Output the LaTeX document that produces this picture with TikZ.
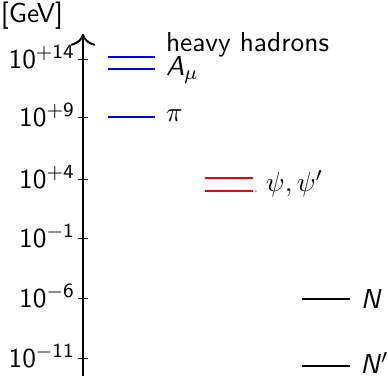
\documentclass[tikz,border=0pt,11pt]{standalone}
\usepackage{tikz}
\usetikzlibrary{arrows.meta,positioning}
\definecolor{levelblue}{RGB}{0,0,230}
\definecolor{levelred}{RGB}{240,0,0}

\tikzset{
  level/.style={thick},
  ticklabel/.style={anchor=east, inner sep=1pt, font=\sffamily},
  statelabel/.style={anchor=west, inner sep=1pt, font=\sffamily}
}

\begin{document}
\begin{tikzpicture}[x=0.4pt, y=-0.4pt]
  \useasboundingbox (0,0) rectangle (388,376);

  % energy axis
  \coordinate (axbot) at (83,376);
  \coordinate (axtop) at (83,34);
  \draw[thick, -{To[scale=1.4]}] (axbot) -- (axtop);
  \node[font=\sffamily] (unit) at (32,16) {[GeV]};

  % ticks and labels
  \foreach \y/\e/\n in {59/+14/a, 117/+9/b, 179/+4/c, 238/-1/d, 298/-6/e, 358/-11/f}{
    \draw (78,\y) -- (88,\y);
    \node[ticklabel] (tick\n) at (78,\y-2) {$\mathsf{10^{\e}}$};
  }

  % heavy states
  \draw[level, levelblue] (108,57) -- (155,57);
  \draw[level, levelblue] (108,69) -- (155,69);
  \node[statelabel] (hadrons) at (163,45) {heavy hadrons};
  \node[statelabel] (amu) at (163,70) {\textsl{A}$_\mu$};

  \draw[level, levelblue] (108,117) -- (155,117);
  \node[statelabel] (pion) at (163,116) {$\pi$};

  % charmonium
  \draw[level, levelred] (205,178) -- (253,178);
  \draw[level, levelred] (205,191) -- (253,191);
  \fill[gray] (256,191) circle (0.8);
  \node[statelabel] (psi) at (263,184) {$\psi,\psi'$};

  % light states
  \draw[level] (302,299) -- (350,299);
  \node[statelabel] (nuc) at (358,299) {\textsl{N}};
  \draw[level] (302,366) -- (350,366);
  \node[statelabel, inner sep=0pt] (nucp) at (360,363) {\textsl{N}$'$};
\end{tikzpicture}
\end{document}
